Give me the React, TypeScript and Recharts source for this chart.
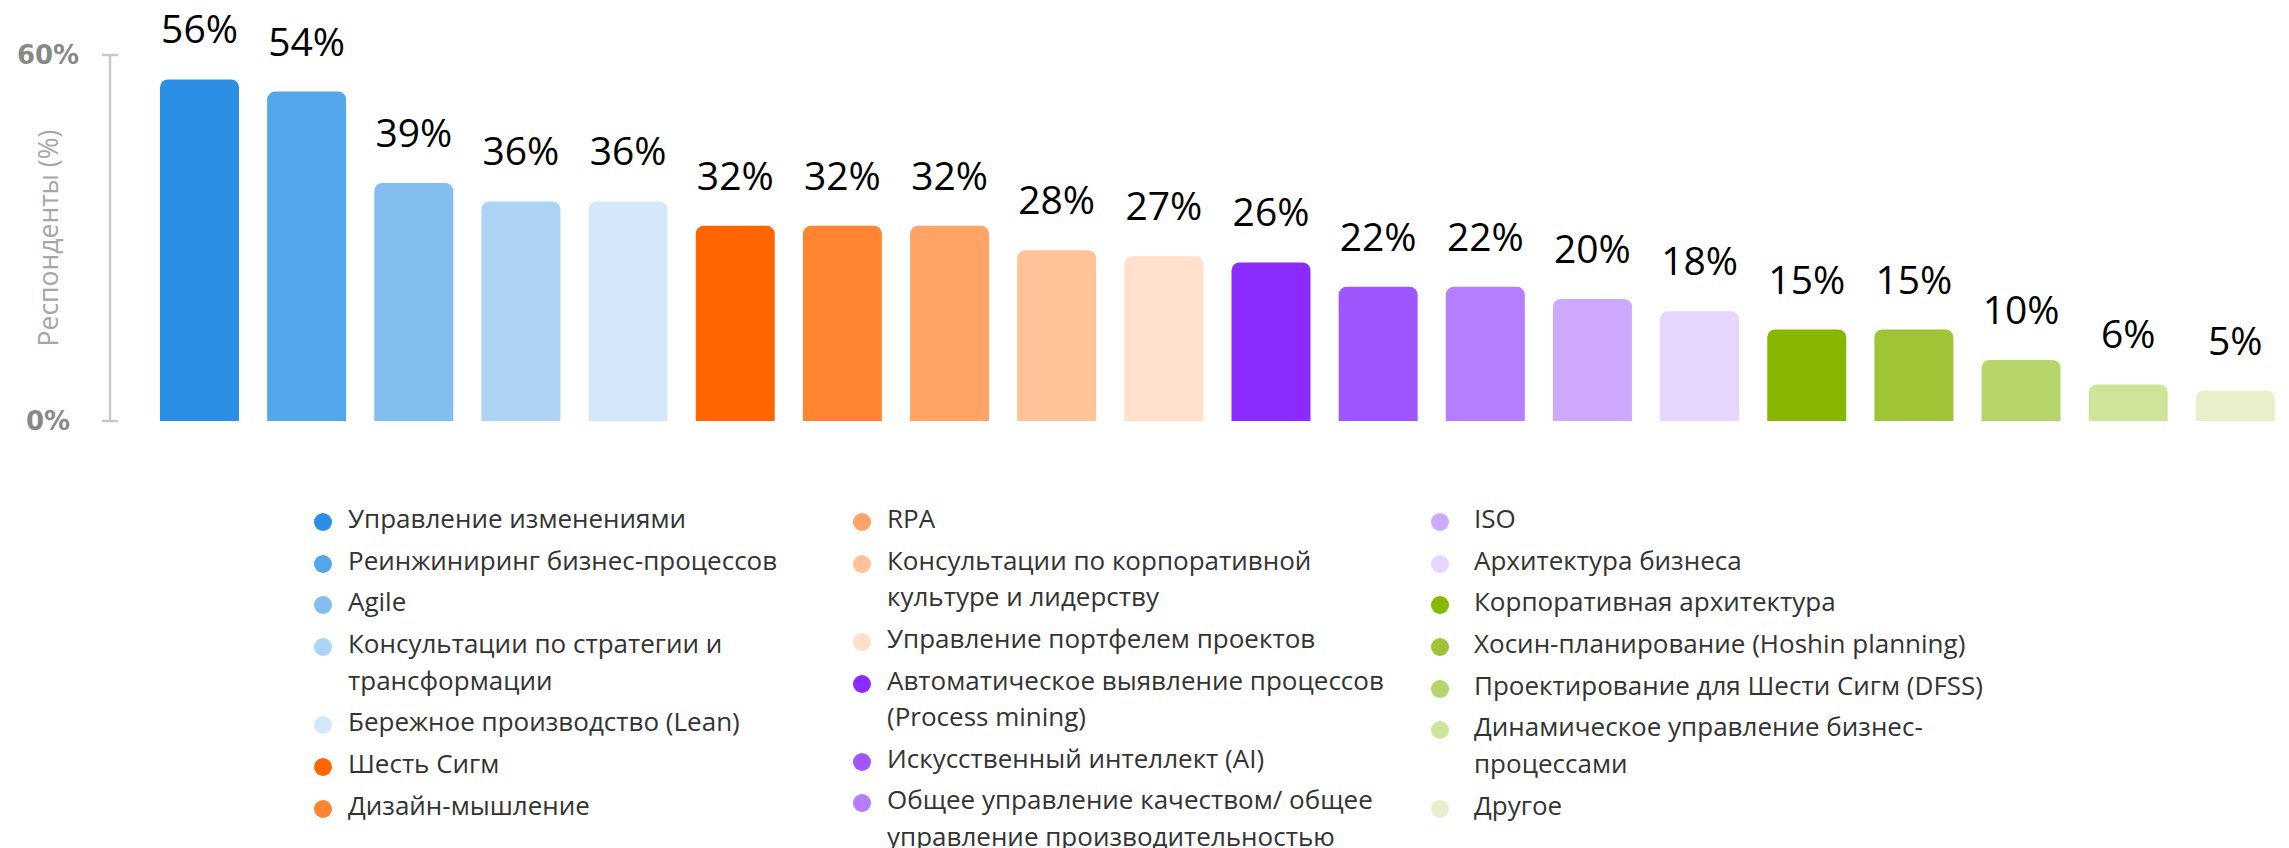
import React from 'react';
import { BarChart, Bar, XAxis, YAxis, Cell, LabelList, Legend } from 'recharts';

if (typeof document !== 'undefined') {
  document.body.style.margin = '0';
  document.body.style.overflow = 'hidden';
}

const categories = [
  'Управление изменениями',
  'Реинжиниринг бизнес-процессов',
  'Agile',
  'Консультации по стратегии и трансформации',
  'Бережное производство (Lean)',
  'Шесть Сигм',
  'Дизайн-мышление',
  'RPA',
  'Консультации по корпоративной культуре и лидерству',
  'Управление портфелем проектов',
  'Автоматическое выявление процессов (Process mining)',
  'Искусственный интеллект (AI)',
  'Общее управление качеством/ общее управление производительностью',
  'ISO',
  'Архитектура бизнеса',
  'Корпоративная архитектура',
  'Хосин-планирование (Hoshin planning)',
  'Проектирование для Шести Сигм (DFSS)',
  'Динамическое управление бизнес-процессами',
  'Другое',
];

const values = [56, 54, 39, 36, 36, 32, 32, 32, 28, 27, 26, 22, 22, 20, 18, 15, 15, 10, 6, 5];

const colors = [
  '#2B8FE5', '#55A7EB', '#82BEF0', '#ADD3F5', '#D5E8F9',
  '#FF6600', '#FF8533', '#FFA366', '#FFC299', '#FFE0CC',
  '#8A2BFF', '#A056FF', '#B57DFF', '#CFA8FF', '#E6D5FF',
  '#88B700', '#9FC435', '#B8D56B', '#D0E39B', '#E7F0CA',
];

const yTicks = [0, 60];
const yAxisTitle = 'Респонденты (%)';
const legendColumnSizes = [7, 6, 7];

const data = categories.map((name, i) => ({ name, value: values[i] }));

const columnLayout = [
  { left: 314, gap: 16, width: 500 },
  { left: 853, gap: 16, width: 560 },
  { left: 1431, gap: 25, width: 560 },
];

const YTick = (props: any) => {
  const { x, y, payload } = props;
  return (
    <g>
      <line x1={x - 8} x2={x + 8} y1={y} y2={y} stroke="#c8c8c8" strokeWidth={2.5} />
      <text
        x={x - 62}
        y={y}
        textAnchor="middle"
        dominantBaseline="central"
        fontFamily="'DejaVu Sans'"
        fontWeight="bold"
        fontSize={26}
        fill="#888888"
      >
        {payload.value}%
      </text>
    </g>
  );
};

const YTitle = (props: any) => {
  const vb = props.viewBox || { x: 0, y: 0, width: 110, height: 366 };
  const cx = vb.x + 48;
  const cy = vb.y + vb.height / 2;
  return (
    <text
      x={cx}
      y={cy}
      transform={`rotate(-90 ${cx} ${cy})`}
      textAnchor="middle"
      dominantBaseline="central"
      fontFamily="'Open Sans'"
      fontSize={26.5}
      fill="#a6a6a6"
    >
      {yAxisTitle}
    </text>
  );
};

const LegendContent = () => {
  let start = 0;
  return (
    <div
      style={{
        position: 'relative',
        width: 2289,
        height: 340,
        fontFamily: "'Open Sans'",
        fontSize: 26,
        color: '#333333',
      }}
    >
      {legendColumnSizes.map((count, c) => {
        const from = start;
        start += count;
        const col = columnLayout[c];
        return (
          <div key={c} style={{ position: 'absolute', left: col.left, top: 0, width: col.width }}>
            {categories.slice(from, from + count).map((label, k) => (
              <div
                key={label}
                style={{ display: 'flex', alignItems: 'flex-start', lineHeight: '36.5px', marginBottom: 5.2 }}
              >
                <span
                  style={{
                    flex: '0 0 auto',
                    width: 18,
                    height: 18,
                    borderRadius: 9,
                    background: colors[from + k],
                    marginTop: 13,
                    marginRight: col.gap,
                  }}
                />
                <span style={{ textAlign: 'left' }}>{label}</span>
              </div>
            ))}
          </div>
        );
      })}
    </div>
  );
};

export default function App() {
  return (
    <div style={{ width: 2289, height: 848, position: 'relative', background: '#ffffff' }}>
      <BarChart
        width={2289}
        height={848}
        data={data}
        margin={{ top: 55, right: 0, bottom: 427, left: 0 }}
      >
        <XAxis dataKey="name" type="category" hide padding={{ left: 36, right: 0 }} />
        <YAxis
          type="number"
          domain={[0, 60]}
          ticks={yTicks}
          width={110}
          tickSize={0}
          tickMargin={0}
          tickLine={false}
          axisLine={{ stroke: '#c8c8c8', strokeWidth: 2.5 }}
          tick={<YTick />}
          label={<YTitle />}
          interval={0}
        />
        <Legend
          layout="horizontal"
          verticalAlign="middle"
          align="center"
          content={<LegendContent />}
          wrapperStyle={{ top: 500, left: 0, width: 2289, height: 340 }}
        />
        <Bar dataKey="value" barSize={79} radius={[8, 8, 0, 0]} isAnimationActive={false}>
          {data.map((d, i) => (
            <Cell key={d.name} fill={colors[i]} />
          ))}
          <LabelList
            dataKey="value"
            position="top"
            offset={36}
            formatter={(v: any) => `${v}%`}
            fill="#000000"
            fontSize={39}
            fontFamily="'Open Sans'"
          />
        </Bar>
      </BarChart>
    </div>
  );
}
